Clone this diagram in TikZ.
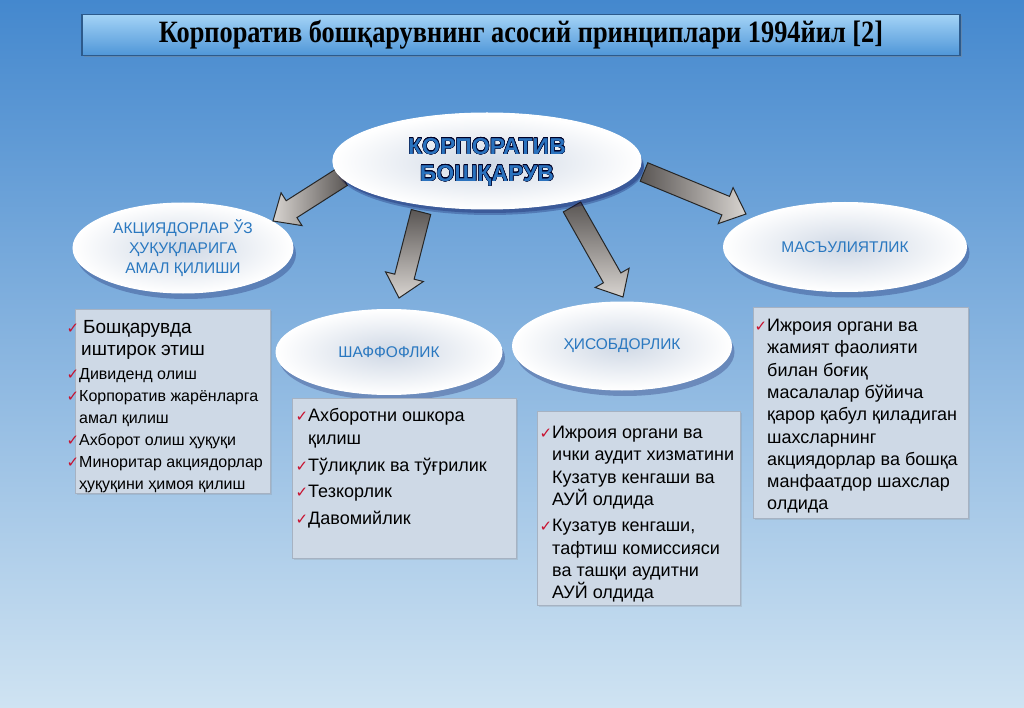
\documentclass[tikz,border=0pt]{standalone}
\usepackage{fontspec}
\setmainfont{Liberation Sans}
\newfontfamily\titlefont[FakeStretch=0.85]{Liberation Serif}
\newfontfamily\symfont{DejaVu Sans}
\usepackage{contour}
\usetikzlibrary{shapes.geometric,shadows,calc}

\definecolor{bgtop}{HTML}{4488CE}
\definecolor{bgbot}{HTML}{CFE3F2}
\definecolor{bartop}{HTML}{A3D3F6}
\definecolor{barbot}{HTML}{4F96D8}
\definecolor{barline}{HTML}{2C5A8C}
\definecolor{ovaltxt}{HTML}{2A78C0}
\definecolor{maintxt}{HTML}{2A72BE}
\definecolor{ovalin}{HTML}{CFD8E5}
\definecolor{boxfill}{HTML}{CED9E6}
\definecolor{boxline}{HTML}{A6B2C2}
\definecolor{chkred}{HTML}{C8102E}
\definecolor{arrdark}{HTML}{5A5654}
\definecolor{arrlight}{HTML}{D8D4D0}

\contourlength{0.45pt}
\newcommand\chk{\textcolor{chkred}{\symfont\fontsize{15}{15}\selectfont ✓}}
\newcommand\itm[1]{\par\noindent\llap{\chk}#1}
% block arrow: #1 style, #2 tail, #3 tip
\newcommand\blockarrow[3]{%
 \coordinate (ba-s) at (#2);
 \coordinate (ba-t) at (#3);
 \coordinate (ba-h) at ($(ba-t)!22pt!(ba-s)$);
 \draw[#1] ($(ba-s)!10pt!90:(ba-t)$) -- ($(ba-h)!10pt!90:(ba-t)$)
  -- ($(ba-h)!19.5pt!90:(ba-t)$) -- (ba-t) -- ($(ba-h)!19.5pt!-90:(ba-t)$)
  -- ($(ba-h)!10pt!-90:(ba-t)$) -- ($(ba-s)!10pt!-90:(ba-t)$) -- cycle;
}

\begin{document}
\begin{tikzpicture}[x=1pt,y=-1pt]
 \tikzstyle{oval}=[ellipse, draw=white, line width=1pt, inner sep=0pt,
   shading=radial, inner color=ovalin, outer color=white, text=ovaltxt, align=center,
   font=\fontsize{15.5}{20}\selectfont,
   drop shadow={shadow xshift=3pt, shadow yshift=-6pt, opacity=0.25, fill=black!70!blue}]
 \tikzstyle{infobox}=[rectangle, draw=boxline, fill=boxfill, inner sep=0pt, anchor=north west,
   drop shadow={shadow xshift=2pt, shadow yshift=-2pt, opacity=0.2}]
 \tikzstyle{barrow}=[draw=black!85, line width=1pt, line join=miter]
 %
 \fill[top color=bgtop, bottom color=bgbot] (0,0) rectangle (1024,708);
 \useasboundingbox (0,0) rectangle (1024,708);
 %
 \node[rectangle, draw=barline, line width=1.2pt, top color=bartop, bottom color=barbot,
   minimum width=878pt, minimum height=41pt,
   drop shadow={shadow xshift=2pt, shadow yshift=-2pt, opacity=0.4}] (ttl) at (521,35)
   {\titlefont\bfseries\fontsize{31}{32}\selectfont Корпоратив бошқарувнинг асосий принциплари 1994йил [2]};
 %
 \node[oval, minimum width=308pt, minimum height=94pt] (main) at (487,160) {};
 \node[oval, minimum width=220pt, minimum height=90pt] (lft) at (183,248)
   {АКЦИЯДОРЛАР ЎЗ\\ҲУҚУҚЛАРИГА\\АМАЛ ҚИЛИШИ};
 \node[oval, minimum width=243pt, minimum height=89pt] (msl) at (845,247) {МАСЪУЛИЯТЛИК};
 \node[oval, minimum width=226pt, minimum height=85pt] (shf) at (389,352) {ШАФФОФЛИК};
 \node[oval, minimum width=219pt, minimum height=88pt] (hsb) at (622,346) {ҲИСОБДОРЛИК};
 %
 \blockarrow{barrow, left color=arrlight, right color=arrdark}{[xshift=-145pt,yshift=-17pt]main.center}{[xshift=90pt,yshift=27pt]lft.center}
 \blockarrow{barrow, top color=arrdark, bottom color=arrlight}{[xshift=-66pt,yshift=-52pt]main.center}{[xshift=10pt,yshift=54pt]shf.center}
 \blockarrow{barrow, top color=arrdark, bottom color=arrlight}{[xshift=85pt,yshift=-47pt]main.center}{[xshift=1pt,yshift=49pt]hsb.center}
 \blockarrow{barrow, left color=arrdark, right color=arrlight}{[xshift=157pt,yshift=-12pt]main.center}{[xshift=-99pt,yshift=33pt]msl.center}
 % main oval on top of the arrow tails
 \node[oval, minimum width=308pt, minimum height=94pt, text=maintxt,
   font=\bfseries\fontsize{23}{27}\selectfont] at (487,162)
   {\contour{black!85!blue}{КОРПОРАТИВ}\\\contour{black!85!blue}{БОШҚАРУВ}};
 %
 \node[infobox] (b1) at (75,309) {\parbox[c][184pt][t]{195pt}{\raggedright\leftskip=4pt
   \vspace*{11pt}\fontsize{19}{23}\selectfont
   \itm{\hspace{4pt}Бошқарувда\\\hspace*{2pt}иштирок этиш}\vspace{2pt}
   \fontsize{16}{22}\selectfont
   \itm{Дивиденд олиш}
   \itm{Корпоратив жарёнларга\\амал қилиш}
   \itm{Ахборот олиш ҳуқуқи}
   \itm{Миноритар акциядорлар\\ҳуқуқини ҳимоя қилиш}\par}};
 \node[infobox] (b2) at (292,398) {\parbox[c][160pt][t]{224pt}{\raggedright\leftskip=16pt
   \vspace*{10pt}\fontsize{18}{23}\selectfont
   \itm{Ахборотни ошкора\\қилиш}\vspace{4pt}
   \itm{Тўлиқлик ва тўғрилик}\vspace{3pt}
   \itm{Тезкорлик}\vspace{4pt}
   \itm{Давомийлик}\par}};
 \node[infobox] (b3) at (537,411) {\parbox[c][194pt][t]{203pt}{\raggedright\leftskip=15pt
   \vspace*{15pt}\fontsize{18}{22.3}\selectfont
   \itm{Ижроия органи ва\\ички аудит хизматини\\Кузатув кенгаши ва\\АУЙ олдида}\vspace{4pt}
   \itm{Кузатув кенгаши,\\тафтиш комиссияси\\ва ташқи аудитни\\АУЙ олдида}\par}};
 \node[infobox] (b4) at (753,307) {\parbox[c][211pt][t]{215pt}{\raggedright\leftskip=14pt
   \vspace*{12pt}\fontsize{18}{22.3}\selectfont
   \itm{Ижроия органи ва\\жамият фаолияти\\билан боғиқ\\масалалар бўйича\\қарор қабул қиладиган\\шахсларнинг\\акциядорлар ва бошқа\\манфаатдор шахслар\\олдида}\par}};
\end{tikzpicture}
\end{document}
